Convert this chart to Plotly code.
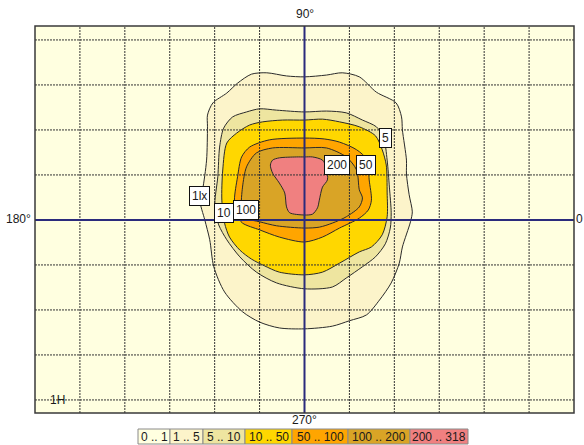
import plotly.graph_objects as go

# ---------------- data (isolux contours, in units of mounting height H) -------------
levels = [1, 5, 10, 50, 100, 200]
band_labels = ["0 .. 1", "1 .. 5", "5 .. 10", "10 .. 50", "50 .. 100", "100 .. 200", "200 .. 318"]
band_colors = ["#FFFFE0", "#FCF4CA", "#EEE5A0", "#FFD700", "#FFA500", "#D9A426", "#F08080"]

iso1_x = [0, 0.49, 0.84, 1.22, 1.60, 2.04, 2.16, 2.18, 2.27, 2.27, 2.33, 2.40, 2.36, 2.18, 2.11, 1.93, 1.67, 1.38, 1.00, 0.62,
          0, -0.56, -1.00, -1.38, -1.78, -2.02, -2.11, -2.22, -2.33, -2.27, -2.18, -2.16, -2.16, -2.04, -1.73, -1.49, -1.18, -0.84, -0.40]
iso1_y = [3.18, 3.22, 3.27, 3.18, 2.84, 2.60, 2.29, 2.00, 1.33, 1.02, 0.56, 0.18, -0.04, -0.60, -0.96, -1.40, -1.78, -2.11, -2.24, -2.36,
          -2.42, -2.40, -2.27, -2.04, -1.60, -1.04, -0.44, 0, 0.44, 0.67, 1.33, 2.07, 2.33, 2.60, 2.82, 3.04, 3.24, 3.27, 3.20]

iso5_x = [0, 0.49, 0.93, 1.29, 1.60, 1.76, 1.84, 1.89, 1.93, 1.91, 1.80, 1.58, 1.29, 0.93, 0.62, 0, -0.62, -1.07, -1.44, -1.73,
          -1.91, -2.00, -1.93, -1.89, -1.80, -1.60, -1.29, -1.00, -0.62]
iso5_y = [2.40, 2.42, 2.38, 2.22, 2.07, 1.84, 1.33, 0.73, 0.16, -0.18, -0.53, -0.82, -1.04, -1.29, -1.49, -1.53, -1.40, -1.16, -0.82, -0.44,
          -0.11, 0.29, 0.96, 1.62, 2.04, 2.29, 2.40, 2.47, 2.44]

iso10_x = [0, 0.40, 0.78, 1.22, 1.58, 1.73, 1.82, 1.84, 1.84, 1.73, 1.49, 1.22, 0.78, 0.40, 0, -0.56, -0.89, -1.18, -1.44, -1.67,
           -1.78, -1.84, -1.82, -1.73, -1.51, -1.22, -0.93, -0.49]
iso10_y = [2.22, 2.24, 2.18, 2.07, 1.87, 1.56, 1.22, 0.60, 0.07, -0.33, -0.60, -0.71, -0.96, -1.16, -1.22, -1.16, -1.02, -0.87, -0.67, -0.38,
           -0.07, 0.44, 1.11, 1.71, 1.93, 2.11, 2.18, 2.22]

iso50_x = [0, 0.44, 0.78, 1.16, 1.40, 1.44, 1.49, 1.42, 1.22, 0.78, 0.40, 0, -0.56, -1.00, -1.38, -1.51, -1.56, -1.49, -1.40, -1.22, -0.78]
iso50_y = [1.82, 1.80, 1.73, 1.56, 1.33, 0.89, 0.44, 0.22, 0.04, -0.18, -0.38, -0.49, -0.38, -0.22, -0.07, 0.11, 0.44, 0.96, 1.40, 1.62, 1.78]

iso100_x = [0, 0.49, 0.93, 1.16, 1.22, 1.29, 1.22, 0.93, 0.62, 0.33, 0, -0.62, -1.00, -1.29, -1.40, -1.38, -1.29, -1.07, -0.71]
iso100_y = [1.60, 1.60, 1.40, 1.11, 0.67, 0.49, 0.29, 0.07, -0.07, -0.16, -0.18, -0.13, -0.04, 0.04, 0.29, 0.73, 1.18, 1.49, 1.60]

iso200_x = [0, 0.18, 0.40, 0.49, 0.51, 0.40, 0.33, 0.29, 0.18, 0, -0.33, -0.40, -0.44, -0.56, -0.71, -0.76, -0.71, -0.56, -0.18]
iso200_y = [1.40, 1.40, 1.33, 1.16, 0.89, 0.73, 0.44, 0.27, 0.13, 0.11, 0.16, 0.29, 0.60, 0.82, 1.04, 1.22, 1.33, 1.38, 1.40]

contour_label_text = ["1lx", "5", "10", "50", "100", "200"]
contour_label_x = [-2.33, 1.80, -1.80, 1.38, -1.31, 0.73]
contour_label_y = [0.53, 1.82, 0.16, 1.22, 0.22, 1.22]

grid_x = [-5, -4, -3, -2, -1, 1, 2, 3, 4, 5]
grid_y = [-4, -3, -2, -1, 1, 2, 3, 4]

# ---------------- layout constants ----------------
W, H = 584, 445
L, R, T, B = 35, 10, 26, 32
X_RANGE = [-6, 6]
Y_RANGE = [-4.29, 4.31]
FONT = "Liberation Sans"
plot_w = W - L - R
plot_h = H - T - B


def px_to_paper_x(px):
    return (px - L) / plot_w


def px_to_paper_y(py):
    return (H - B - py) / plot_h


fig = go.Figure()

contours = [(iso1_x, iso1_y), (iso5_x, iso5_y), (iso10_x, iso10_y),
            (iso50_x, iso50_y), (iso100_x, iso100_y), (iso200_x, iso200_y)]
for i, (cx, cy) in enumerate(contours):
    fig.add_trace(go.Scatter(
        x=list(cx) + [cx[0]], y=list(cy) + [cy[0]],
        mode="lines", fill="toself", fillcolor=band_colors[i + 1],
        line=dict(color="#2a2a2a", width=1, shape="spline", smoothing=0.8),
        hoverinfo="skip", showlegend=False, name=f"{levels[i]} lx"))

shapes = []
for gx in grid_x:
    shapes.append(dict(type="line", xref="x", yref="y", x0=gx, x1=gx, y0=Y_RANGE[0], y1=Y_RANGE[1],
                       line=dict(color="#333333", width=1, dash="2px,1px"), layer="above"))
for gy in grid_y:
    shapes.append(dict(type="line", xref="x", yref="y", y0=gy, y1=gy, x0=X_RANGE[0], x1=X_RANGE[1],
                       line=dict(color="#333333", width=1, dash="2px,1px"), layer="above"))
# main axes
shapes.append(dict(type="line", xref="x", yref="y", x0=0, x1=0, y0=Y_RANGE[0], y1=Y_RANGE[1],
                   line=dict(color="#2b2b7c", width=2), layer="above"))
shapes.append(dict(type="line", xref="x", yref="y", y0=0, y1=0, x0=X_RANGE[0], x1=X_RANGE[1],
                   line=dict(color="#2b2b7c", width=2), layer="above"))
# frame
shapes.append(dict(type="rect", xref="paper", yref="paper", x0=0, x1=1, y0=0, y1=1,
                   line=dict(color="#3a3a3a", width=1.5), layer="above"))


def label(x, y, text, ref="paper", **kw):
    d = dict(x=x, y=y, xref=ref, yref=ref, text=text, showarrow=False,
             xanchor="center", yanchor="middle",
             font=dict(family=FONT, size=12, color="#1a1a1a"))
    d.update(kw)
    return d


annotations = []
for t, lx, ly in zip(contour_label_text, contour_label_x, contour_label_y):
    annotations.append(label(lx, ly, t, ref="x", yref="y", bgcolor="white", bordercolor="#111",
                             borderwidth=1, borderpad=2))
annotations.append(label(-5.5, -4, "1H", ref="x", yref="y"))

# direction labels
annotations += [
    label(0.5, px_to_paper_y(14), "90°"),
    label(0.5, px_to_paper_y(420), "270°"),
    label(px_to_paper_x(18), px_to_paper_y(219), "180°"),
    label(px_to_paper_x(579), px_to_paper_y(219), "0"),
]

# colour legend (boxes under the plot)
legend_edges_px = [138, 170, 203, 245, 292, 348, 410, 468]
leg_top, leg_bot = 429, 444
for i, lab in enumerate(band_labels):
    x0 = px_to_paper_x(legend_edges_px[i])
    x1 = px_to_paper_x(legend_edges_px[i + 1])
    shapes.append(dict(type="rect", xref="paper", yref="paper", x0=x0, x1=x1,
                       y0=px_to_paper_y(leg_bot), y1=px_to_paper_y(leg_top),
                       fillcolor=band_colors[i], line=dict(color="#8a8a8a", width=1), layer="above"))
    annotations.append(label((x0 + x1) / 2, px_to_paper_y((leg_top + leg_bot) / 2), lab))

fig.update_layout(
    width=W, height=H,
    margin=dict(l=L, r=R, t=T, b=B, pad=0),
    plot_bgcolor=band_colors[0], paper_bgcolor="white",
    xaxis=dict(range=X_RANGE, showgrid=False, zeroline=False, showticklabels=False, ticks="", fixedrange=True),
    yaxis=dict(range=Y_RANGE, showgrid=False, zeroline=False, showticklabels=False, ticks="", fixedrange=True),
    shapes=shapes, annotations=annotations, showlegend=False,
)

fig.write_html("out.html", config={"displayModeBar": False},
               post_script="document.body.style.margin='0';document.body.style.overflow='hidden';")
